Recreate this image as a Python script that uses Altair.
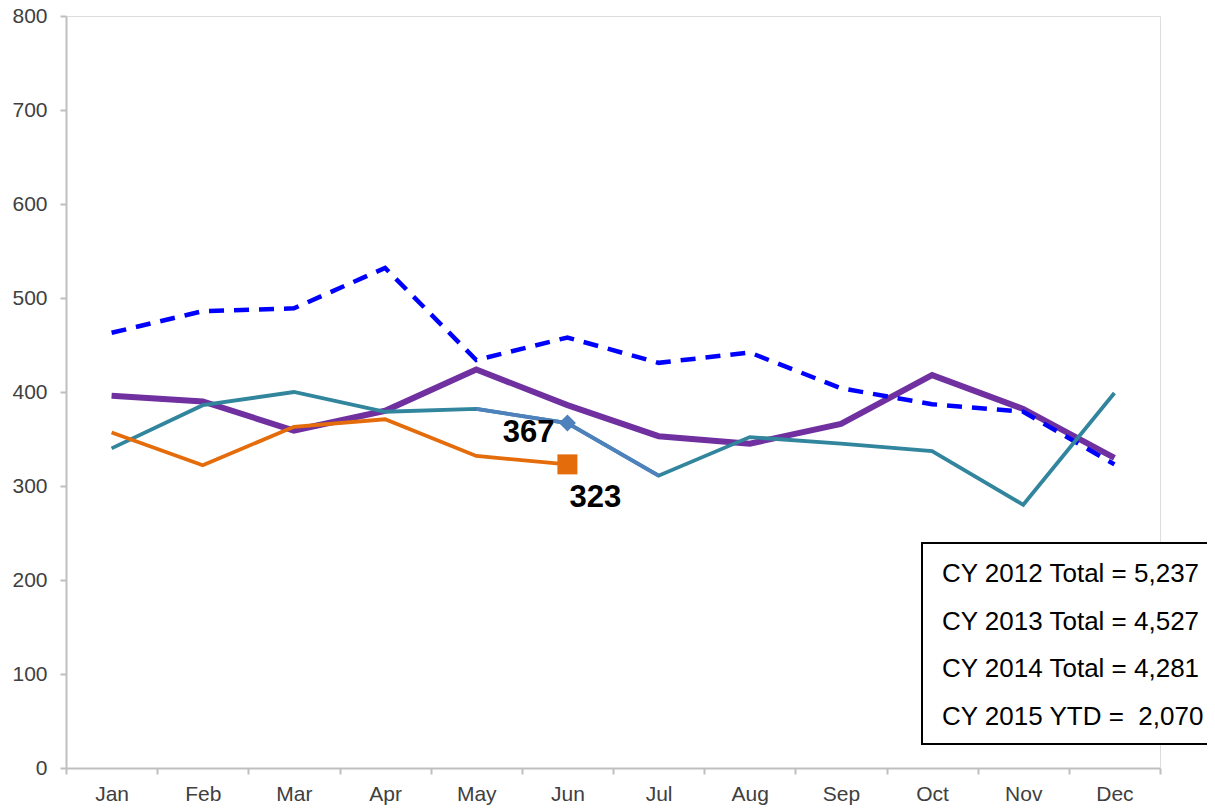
import altair as alt
import pandas as pd

months = ["Jan", "Feb", "Mar", "Apr", "May", "Jun", "Jul", "Aug", "Sep", "Oct", "Nov", "Dec"]
cy2012 = [463, 486, 489, 532, 434, 458, 431, 442, 404, 387, 379, 323]
cy2013 = [396, 390, 359, 380, 424, 386, 353, 345, 366, 418, 382, 330]
cy2014 = [340, 386, 400, 379, 382, 367, 311, 352, 345, 337, 280, 399]
cy2015 = [357, 322, 363, 371, 332, 323]
highlight_months = ["May", "Jun", "Jul"]
box_lines = ["CY 2012 Total = 5,237", "CY 2013 Total = 4,527",
             "CY 2014 Total = 4,281", "CY 2015 YTD =\u00a0 2,070"]

FONT = "Liberation Sans"

def frame(vals, ms=months):
    return pd.DataFrame({"month": ms[:len(vals)], "value": vals})

d12 = frame(cy2012)
d13 = frame(cy2013)
d14 = frame(cy2014)
d15 = frame(cy2015)
dhl = d14[d14["month"].isin(highlight_months)]

x = alt.X("month:N", sort=months, title=None,
          scale=alt.Scale(type="band", paddingInner=0, paddingOuter=0),
          axis=alt.Axis(tickBand="extent", labelAngle=0, labelFont=FONT, labelFontSize=21,
                        labelColor="#404040", domainColor="#BFBFBF", domainWidth=2,
                        tickColor="#BFBFBF", tickWidth=2, tickSize=6, labelPadding=9))
y = alt.Y("value:Q", title=None,
          scale=alt.Scale(domain=[0, 800], nice=False),
          axis=alt.Axis(values=list(range(0, 801, 100)), grid=False, labelFont=FONT,
                        labelFontSize=21, labelColor="#404040", domainColor="#BFBFBF",
                        domainWidth=2, tickColor="#BFBFBF", tickWidth=2, tickSize=6,
                        labelPadding=13))

def line(df, color, width, dash=None):
    kw = dict(color=color, strokeWidth=width, strokeCap="butt", strokeJoin="miter")
    if dash:
        kw["strokeDash"] = dash
    return alt.Chart(df).mark_line(**kw).encode(x=x, y=y)

l13 = line(d13, "#7030A0", 6)
l12 = line(d12, "#0000FF", 4.5, [15, 10])
l14 = line(d14, "#31859C", 3.8)
lhl = line(dhl, "#4F81BD", 3.8)
l15 = line(d15, "#E46C0A", 3.8)

jun14 = d14[d14["month"] == "Jun"]
jun15 = d15[d15["month"] == "Jun"]
diamond = alt.Chart(jun14).mark_point(shape="diamond", filled=True, opacity=1,
                                      color="#4F81BD", size=290).encode(x=x, y=y)
square = alt.Chart(jun15).mark_point(shape="square", filled=True, opacity=1,
                                     color="#E46C0A", size=400).encode(x=x, y=y)
lab14 = alt.Chart(jun14).mark_text(font=FONT, fontSize=31, fontWeight="bold", color="black",
                                   align="right", baseline="middle", dx=-13, dy=10).encode(
    x=x, y=y, text=alt.Text("value:Q"))
lab15 = alt.Chart(jun15).mark_text(font=FONT, fontSize=31, fontWeight="bold", color="black",
                                   align="left", baseline="middle", dx=2, dy=34).encode(
    x=x, y=y, text=alt.Text("value:Q"))

box = alt.Chart(pd.DataFrame({"a": [0]})).mark_rect(
    fill="white", stroke="black", strokeWidth=2).encode(
    x=alt.value(856), x2=alt.value(1170), y=alt.value(527), y2=alt.value(728))

texts = []
for i, t in enumerate(box_lines):
    texts.append(alt.Chart(pd.DataFrame({"t": [t]})).mark_text(
        font=FONT, fontSize=26, color="black", align="left", baseline="middle").encode(
        x=alt.value(876), y=alt.value(558 + i * 47.7), text="t:N"))

chart = alt.layer(l13, l12, l14, lhl, l15, diamond, square, lab14, lab15, box, *texts).properties(
    width=1094, height=752,
    autosize=alt.AutoSizeParams(type="none"),
    padding={"left": 58, "top": 8, "right": 47, "bottom": 38},
).configure_view(stroke=None).configure(background="white")

chart.save("out.html", embed_options={"renderer": "svg", "actions": False})
